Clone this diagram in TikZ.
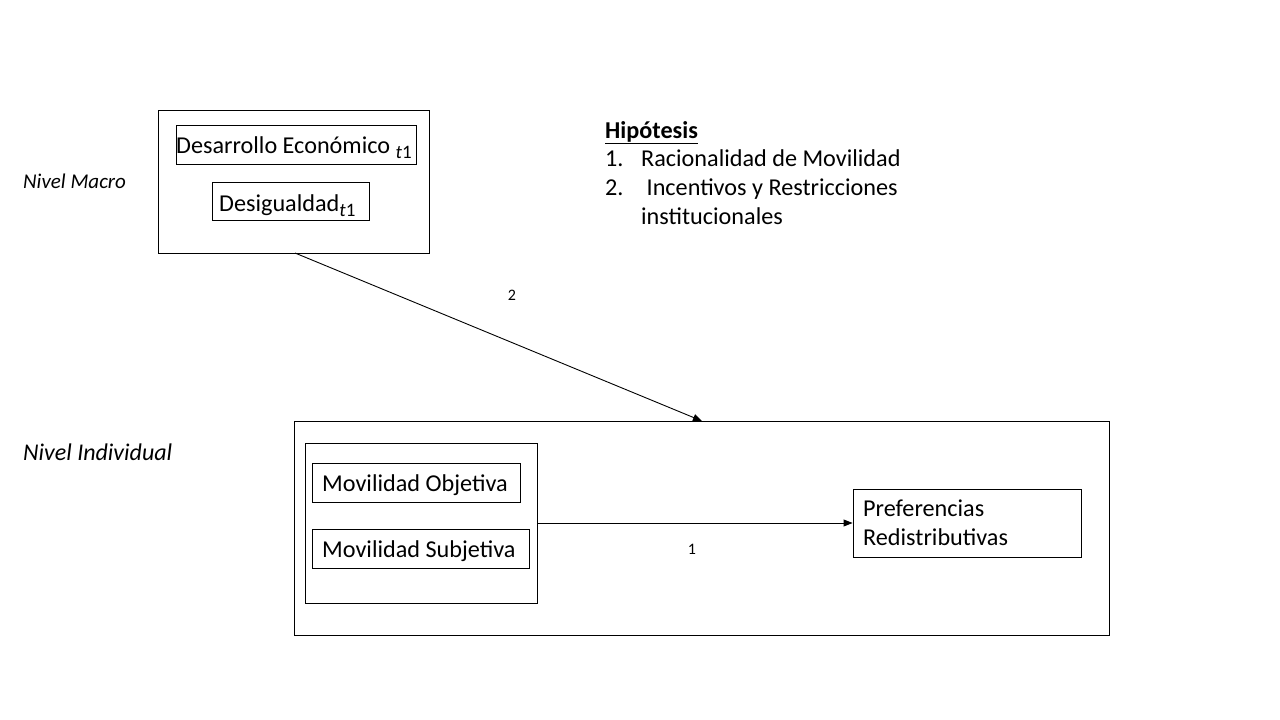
\documentclass[tikz,border=0pt]{standalone}
\usepackage{fontspec}
\setmainfont{Carlito}
\usetikzlibrary{arrows.meta}
\newcommand{\subtone}{\raisebox{-5pt}{\fontsize{19}{19}\selectfont\itshape t\upshape 1}}
\begin{document}
\begin{tikzpicture}[x=1pt,y=-1pt,
  box/.style={draw,line width=0.9pt},
  lbl/.style={font=\fontsize{24.2}{28}\selectfont,inner sep=0pt,anchor=base west},
  small/.style={font=\fontsize{16}{19}\selectfont,inner sep=0pt},
  lvl/.style={font=\fontsize{21}{25}\selectfont\itshape,inner sep=0pt,anchor=base west},
  arr/.style={line width=0.9pt,-{Triangle[length=9pt,width=7pt]}}]
\useasboundingbox (0,0) rectangle (1280,720);
% macro
\node[box,minimum width=271pt,minimum height=143pt,inner sep=0pt] (macro) at (293.5,181.5) {};
\node[box,minimum width=240pt,minimum height=39pt,inner sep=0pt] (des) at (296,144.5) {};
\node[lbl] (dest) at (176,153) {Desarrollo Económico \subtone};
\node[box,minimum width=157pt,minimum height=38pt,inner sep=0pt] (desig) at (290.5,201) {};
\node[lbl] (desigt) at (219,211) {Desigualdad\subtone};
\node[lvl] (nm) at (23,188) {Nivel Macro};
\node[lvl,font=\fontsize{24}{28}\selectfont\itshape] (ni) at (23,460) {Nivel Individual};
% hypotheses
\node[lbl,font=\fontsize{24.2}{28}\selectfont\bfseries] (hip) at (605,138) {\underline{Hipótesis}};
\node[lbl] (h1n) at (605,166) {1.};
\node[lbl] (h1) at (641,166) {Racionalidad de Movilidad};
\node[lbl] (h2n) at (605,195) {2.};
\node[lbl] (h2) at (641,195) {\ Incentivos y Restricciones};
\node[lbl] (h3) at (641,224) {institucionales};
% individual
\node[box,minimum width=815pt,minimum height=214pt,inner sep=0pt] (ind) at (701.5,528) {};
\node[box,minimum width=232pt,minimum height=160pt,inner sep=0pt] (inner) at (421,523) {};
\node[box,minimum width=208pt,minimum height=39pt,inner sep=0pt] (mo) at (416,482.5) {};
\node[lbl] (mot) at (322,491) {Movilidad Objetiva};
\node[box,minimum width=217pt,minimum height=39pt,inner sep=0pt] (ms) at (420.5,548.5) {};
\node[lbl] (mst) at (322,557) {Movilidad Subjetiva};
\node[box,minimum width=228pt,minimum height=68pt,inner sep=0pt] (pref) at (967,523) {};
\node[lbl] (preft) at (863,516) {Preferencias};
\node[lbl] (preft2) at (863,545) {Redistributivas};
% arrows
\coordinate (a2s) at (295,253);
\coordinate (a2e) at (702,421);
\draw[arr] (a2s) -- (a2e);
\node[small] (l2) at (512,295) {2};
\draw[arr] (inner.east) -- (pref.west);
\node[small] (l1) at (692,549) {1};
\end{tikzpicture}
\end{document}
